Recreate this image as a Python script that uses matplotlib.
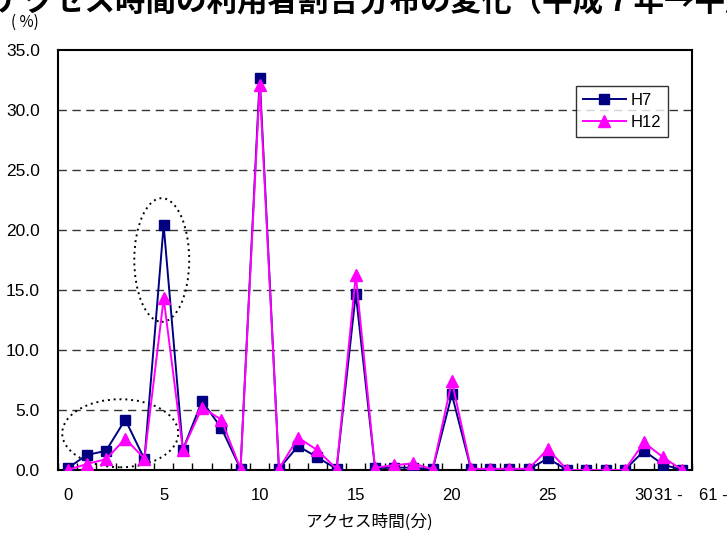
import matplotlib
matplotlib.use("Agg")
import matplotlib.pyplot as plt
from matplotlib.patches import Ellipse

plt.rcParams['font.family'] = ['Liberation Sans', 'Noto Sans CJK JP', 'DejaVu Sans']

# ---- data ----
categories = [str(i) for i in range(31)] + ['31 -', '61 -']
shown_labels = ['0', '5', '10', '15', '20', '25', '30', '31 -', '61 -']
h7 = [0.15, 1.25, 1.6, 4.2, 0.9, 20.4, 1.7, 5.75, 3.5, 0.1, 32.7, 0.1, 2.0, 1.05, 0.1,
      14.7, 0.15, 0.2, 0.2, 0.05, 6.3, 0.05, 0.05, 0.05, 0.05, 0.97, 0.0, 0.0, 0.0, 0.0,
      1.6, 0.45, 0.0]
h12 = [0.0, 0.5, 0.9, 2.6, 0.95, 14.3, 1.7, 5.2, 4.2, 0.1, 32.1, 0.1, 2.7, 1.65, 0.1,
       16.25, 0.2, 0.4, 0.55, 0.05, 7.4, 0.1, 0.1, 0.1, 0.1, 1.75, 0.0, 0.0, 0.0, 0.0,
       2.3, 1.05, 0.0]
series_names = ['H7', 'H12']
yticks = [0, 5, 10, 15, 20, 25, 30, 35]

title = 'アクセス時間の利用者割合分布の変化（平成７年→平成１２年）'
xlabel = 'アクセス時間(分)'
ylabel = '( %)'

W, H = 727, 533
fig = plt.figure(figsize=(W / 100, H / 100), dpi=100)
L, R, T, B = 58, 692, 50, 470
ax = fig.add_axes([L / W, 1 - B / H, (R - L) / W, (B - T) / H])

x = list(range(len(categories)))
navy = '#000080'
mag = '#FF00FF'
ax.plot(x, h7, color=navy, lw=1.4, marker='s', ms=7, mfc=navy, mec=navy,
        label=series_names[0], zorder=4)
ax.plot(x, h12, color=mag, lw=1.4, marker='^', ms=8, mfc=mag, mec=mag,
        label=series_names[1], zorder=5)

ax.set_xlim(-0.5, len(categories) - 0.5)
ax.set_ylim(0, 35)

# grid
for v in yticks[1:-1]:
    ax.axhline(v, color='#333333', lw=1.0, ls=(0, (6, 4)), zorder=1)

ax.set_yticks(yticks)
ax.set_yticklabels([f'{v:.1f}' for v in yticks], fontsize=12.5)
ax.tick_params(axis='y', length=0, pad=13)

# x ticks: ticks between categories (inward), labels via text
ax.set_xticks([i - 0.5 for i in range(len(categories) + 1)])
ax.set_xticklabels([])
ax.tick_params(axis='x', direction='in', length=5, width=1)
label_offsets = {'31 -': 0.25, '61 -': 1.6}
for i, c in enumerate(categories):
    if c in shown_labels:
        ax.text(i + label_offsets.get(c, 0), -2.1, c, ha='center', va='center',
                fontsize=12, transform=ax.transData, clip_on=False)

for s in ax.spines.values():
    s.set_linewidth(1.5)
    s.set_color('black')

fig.text(370 / W, 1 - 522 / H, xlabel, ha='center', va='center', fontsize=12,
         family=['Noto Sans CJK JP', 'DejaVu Sans'])
fig.text(25 / W, 1 - 22 / H, ylabel, ha='center', va='center', fontsize=11,
         family=['Noto Sans CJK JP', 'DejaVu Sans'])
fig.text(-6 / W, 1 - 2 / H, title, ha='left', va='center', fontsize=22,
         fontweight='bold', family=['Noto Sans CJK JP', 'DejaVu Sans'])

# dotted ellipses
ax.add_patch(Ellipse((4.9, 17.5), 2.86, 10.3, fill=False, ls=(0, (1, 2)), lw=1.4,
                     color='black', zorder=3))
ax.add_patch(Ellipse((2.74, 3.06), 6.04, 5.67, fill=False, ls=(0, (1, 2)), lw=1.4,
                     color='black', zorder=3))

leg = ax.legend(loc='upper left', bbox_to_anchor=((576 - L) / (R - L), 1 - (86 - T) / (B - T)),
                frameon=True, fancybox=False, edgecolor='black', fontsize=12,
                handlelength=2.6, handletextpad=0.3, borderpad=0.4, labelspacing=0.45,
                borderaxespad=0)
leg.get_frame().set_linewidth(1.0)
leg.set_zorder(10)

fig.savefig('out.png', dpi=100)
